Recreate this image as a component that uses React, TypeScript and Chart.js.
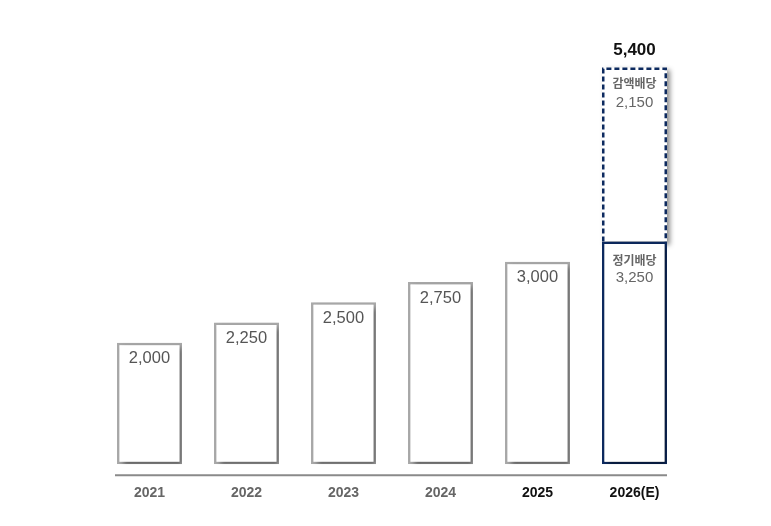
import { useEffect, useRef } from "react";
import { Chart, registerables } from "chart.js";

Chart.register(...registerables);

const categories = ["2021", "2022", "2023", "2024", "2025", "2026(E)"];
const regularDividend = [2000, 2250, 2500, 2750, 3000, 3250];
const reductionDividend = [null, null, null, null, null, 2150];
const totalDividend = [2000, 2250, 2500, 2750, 3000, 5400];
const segmentNames = ["정기배당", "감액배당"];
const axisMin = 500;
const axisMax = 5800;

const GREY = "#a9a9a9";
const NAVY = "#0d2a5f";
const FONT = "'Liberation Sans', 'Noto Sans CJK KR', sans-serif";
const KFONT = "'Noto Sans CJK KR', sans-serif";

const fmt = (v: number) => v.toLocaleString("en-US");

const barPlugin = {
  id: "barDecor",
  beforeDatasetsDraw(chart: any) {
    const ctx = chart.ctx;
    ctx.save();
    ctx.shadowColor = "rgba(0,0,0,0.45)";
    ctx.shadowBlur = 5;
    ctx.shadowOffsetX = 3;
    ctx.shadowOffsetY = 3;
  },
  afterDatasetsDraw(chart: any) {
    const ctx = chart.ctx;
    ctx.restore();
    const area = chart.chartArea;
    const last = categories.length - 1;

    // baseline rule below the bars
    ctx.save();
    ctx.strokeStyle = "#8a8a8a";
    ctx.lineWidth = 2;
    ctx.beginPath();
    ctx.moveTo(area.left + 14, area.bottom + 11);
    ctx.lineTo(area.right - 16, area.bottom + 11);
    ctx.stroke();
    ctx.restore();

    const m0 = chart.getDatasetMeta(0);
    const m1 = chart.getDatasetMeta(1);

    // dashed outline of the top segment
    const top = m1.data[last];
    if (top) {
      const p = top.getProps(["x", "y", "base", "width"], true);
      const lw = 2.5;
      const l = p.x - p.width / 2 + lw / 2;
      const r = p.x + p.width / 2 - lw / 2;
      const t = p.y + lw / 2;
      ctx.save();
      ctx.strokeStyle = NAVY;
      ctx.lineWidth = lw;
      ctx.setLineDash([5, 3]);
      ctx.beginPath();
      ctx.moveTo(l, p.base);
      ctx.lineTo(l, t);
      ctx.lineTo(r, t);
      ctx.lineTo(r, p.base);
      ctx.stroke();
      ctx.restore();
    }

    ctx.save();
    ctx.textAlign = "center";
    ctx.textBaseline = "middle";
    m0.data.forEach((bar: any, i: number) => {
      const p = bar.getProps(["x", "y"], true);
      ctx.fillStyle = "#555555";
      if (i < last) {
        ctx.font = `16.5px ${FONT}`;
        ctx.fillText(fmt(regularDividend[i]), p.x, p.y + 16);
      } else {
        ctx.fillStyle = "#666666";
        ctx.font = `bold 12px ${KFONT}`;
        ctx.fillText(segmentNames[0], p.x, p.y + 19);
        ctx.font = `15px ${FONT}`;
        ctx.fillText(fmt(regularDividend[i]), p.x, p.y + 36);
      }
    });
    if (top) {
      const p = top.getProps(["x", "y"], true);
      ctx.fillStyle = "#666666";
      ctx.font = `bold 12px ${KFONT}`;
      ctx.fillText(segmentNames[1], p.x, p.y + 16);
      ctx.font = `15px ${FONT}`;
      ctx.fillText(fmt(reductionDividend[last] as number), p.x, p.y + 35);
      ctx.fillStyle = "#111111";
      ctx.font = `bold 17px ${FONT}`;
      ctx.fillText(fmt(totalDividend[last]), p.x, p.y - 17);
    }
    ctx.restore();
  },
};

export default function App() {
  const ref = useRef<HTMLCanvasElement | null>(null);

  useEffect(() => {
    if (!ref.current) return;
    const last = categories.length - 1;
    const chart = new Chart(ref.current, {
      type: "bar",
      data: {
        labels: categories,
        datasets: [
          {
            label: segmentNames[0],
            data: regularDividend,
            base: axisMin,
            backgroundColor: "#ffffff",
            borderColor: categories.map((_, i) => (i === last ? NAVY : GREY)),
            borderWidth: 2.5,
            borderSkipped: false,
            barPercentage: 0.67,
            categoryPercentage: 1,
          } as any,
          {
            label: segmentNames[1],
            data: reductionDividend,
            backgroundColor: "#ffffff",
            borderWidth: 0,
            borderSkipped: false,
            barPercentage: 0.67,
            categoryPercentage: 1,
          } as any,
        ],
      },
      options: {
        animation: false,
        responsive: false,
        maintainAspectRatio: false,
        layout: { padding: { left: 101, right: 88, top: 35, bottom: 3 } },
        plugins: { legend: { display: false }, tooltip: { enabled: false } },
        scales: {
          x: {
            stacked: true,
            grid: { display: false, drawTicks: false },
            border: { display: false },
            ticks: {
              padding: 21,
              font: { family: FONT, size: 14, weight: "bold" },
              color: categories.map((_, i) => (i >= last - 1 ? "#111111" : "#666666")),
            },
          },
          y: {
            stacked: true,
            display: false,
            min: axisMin,
            max: axisMax,
          },
        },
      },
      plugins: [barPlugin],
    });
    return () => chart.destroy();
  }, []);

  return (
    <div style={{ position: "fixed", left: 0, top: 0, width: 771, height: 526, background: "#fff" }}>
      <canvas ref={ref} width={771} height={526} style={{ width: 771, height: 526, display: "block" }} />
    </div>
  );
}
